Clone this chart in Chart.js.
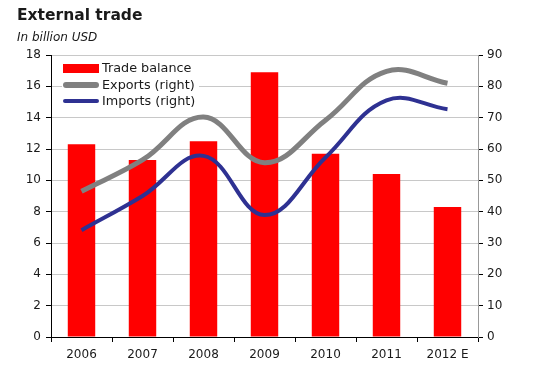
<!DOCTYPE html>
<html><head><meta charset="utf-8">
<script src="https://cdn.jsdelivr.net/npm/chart.js@4"></script>
<style>
html,body{margin:0;padding:0;background:#fff;}
#wrap{position:relative;width:533px;height:378px;font-family:"DejaVu Sans",sans-serif;color:#1a1a1a;}
#title{position:absolute;left:17px;top:6px;font-weight:bold;font-size:15.5px;}
#sub{position:absolute;left:17px;top:30px;font-style:italic;font-size:12px;}
#legend{position:absolute;left:62px;top:59px;background:#fff;font-size:12.8px;line-height:16.5px;padding:1px 4px 1px 1px;}
.li{display:flex;align-items:center;}
.sw{display:inline-block;width:36px;margin-right:3px;}
canvas{position:absolute;left:0;top:0;}
</style></head>
<body><div id="wrap">
<canvas id="c" width="533" height="378"></canvas>
<div id="title">External trade</div>
<div id="sub">In billion USD</div>
<div id="legend"></div>
</div>
<script>
const categories = ["2006","2007","2008","2009","2010","2011","2012 E"];
const tradeBalance = [12.3, 11.3, 12.5, 16.9, 11.7, 10.4, 8.3];
const exportsRight = [46.5, 56.5, 70.2, 55.6, 69.2, 84.8, 81.0];
const importsRight = [34.1, 45.0, 57.8, 38.9, 57.3, 75.5, 72.7];
const leftTicks = [0,2,4,6,8,10,12,14,16,18];
const rightTicks = [0,10,20,30,40,50,60,70,80,90];
const seriesNames = ["Trade balance","Exports (right)","Imports (right)"];
const colors = {bar:"#ff0000", exp:"#808080", imp:"#2e3192"};

const fontCfg = {family:"DejaVu Sans", size:12};
new Chart(document.getElementById('c'), {
  data: {
    labels: categories,
    datasets: [
      {type:'line', label:seriesNames[1], data:exportsRight, yAxisID:'y2', borderColor:colors.exp, borderWidth:5, tension:0.4, pointRadius:0, fill:false, order:1},
      {type:'line', label:seriesNames[2], data:importsRight, yAxisID:'y2', borderColor:colors.imp, borderWidth:4, tension:0.4, pointRadius:0, fill:false, order:1},
      {type:'bar', label:seriesNames[0], data:tradeBalance, yAxisID:'y', backgroundColor:colors.bar, barPercentage:0.45, categoryPercentage:1, order:2}
    ]
  },
  options: {
    responsive:false, animation:false,
    layout:{padding:{top:55,left:0,right:0,bottom:0}},
    plugins:{legend:{display:false}, tooltip:{enabled:false}},
    scales:{
      x:{offset:true, grid:{offset:true, drawOnChartArea:false, tickLength:5, tickColor:'#000'}, border:{color:'#000', width:1},
         ticks:{color:'#1a1a1a', font:fontCfg, padding:6},
         afterFit:s=>{s.height=41;}},
      y:{position:'left', min:0, max:18, afterBuildTicks:s=>{s.ticks=leftTicks.map(v=>({value:v}));},
         grid:{color:'#c8c8c8', tickLength:5, tickColor:'#000'}, border:{color:'#000'},
         ticks:{color:'#1a1a1a', font:fontCfg, padding:5},
         afterFit:s=>{s.width=51;}},
      y2:{position:'right', min:0, max:90, afterBuildTicks:s=>{s.ticks=rightTicks.map(v=>({value:v}));},
         grid:{drawOnChartArea:false, tickLength:5, tickColor:'#000'}, border:{color:'#999'},
         ticks:{color:'#1a1a1a', font:fontCfg, padding:4},
         afterFit:s=>{s.width=55;}}
    }
  }
});

const lg = document.getElementById('legend');
const sw = [
  '<span class="sw" style="height:9px;background:'+colors.bar+'"></span>',
  '<span class="sw" style="height:6px;border-radius:3px;background:'+colors.exp+'"></span>',
  '<span class="sw" style="height:4px;border-radius:2px;background:'+colors.imp+'"></span>'
];
lg.innerHTML = seriesNames.map((n,i)=>'<div class="li">'+sw[i]+'<span>'+n+'</span></div>').join('');
</script>
</body></html>
